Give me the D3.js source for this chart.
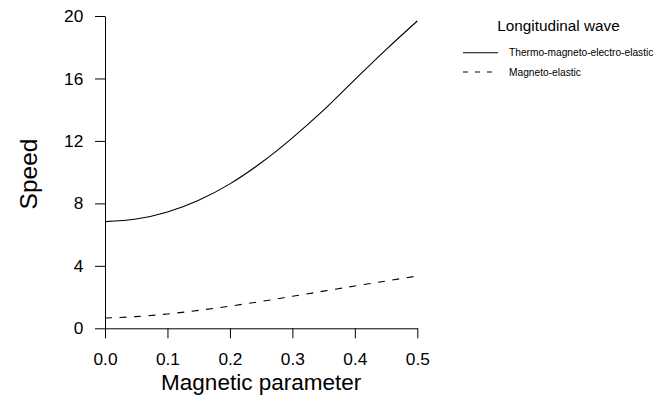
<!DOCTYPE html>
<html><head><meta charset="utf-8">
<script src="https://cdn.jsdelivr.net/npm/d3@7"></script>
<style>body{margin:0;background:#fff}svg{display:block}text{font-family:"Liberation Sans",Arial,sans-serif;fill:#000}</style>
</head><body>
<script>
const magneticParameter = [0, 0.05, 0.1, 0.15, 0.2, 0.25, 0.3, 0.35, 0.4, 0.45, 0.5];
const thermoMagnetoElectroElastic = [6.83, 7.0, 7.45, 8.2, 9.25, 10.6, 12.2, 13.97, 15.93, 17.85, 19.68];
const magnetoElastic = [0.66, 0.75, 0.92, 1.15, 1.42, 1.72, 2.05, 2.38, 2.71, 3.03, 3.35];
const xTicks = [0, 0.1, 0.2, 0.3, 0.4, 0.5];
const yTicks = [0, 4, 8, 12, 16, 20];
const seriesNames = ["Thermo-magneto-electro-elastic", "Magneto-elastic"];
const legendTitle = "Longitudinal wave";

const W = 671, H = 401;
const svg = d3.select("body").append("svg").attr("width", W).attr("height", H);
const x = d3.scaleLinear().domain([0, 0.5]).range([105, 417.3]);
const y = d3.scaleLinear().domain([0, 20]).range([328.3, 16]);

const xAxis = svg.append("g").attr("transform", `translate(0,${y(0)})`)
  .call(d3.axisBottom(x).tickValues(xTicks).tickFormat(d3.format(".1f")).tickSize(10).tickSizeOuter(0).tickPadding(14));
const yAxis = svg.append("g").attr("transform", `translate(${x(0)},0)`)
  .call(d3.axisLeft(y).tickValues(yTicks).tickFormat(d3.format("d")).tickSize(10).tickSizeOuter(0).tickPadding(11.7));
[xAxis, yAxis].forEach(a => {
  a.selectAll("path").attr("stroke", "#000").attr("stroke-width", 1);
  a.selectAll("line").attr("stroke", "#000");
  a.selectAll("text").style("font-size", "17.3px").attr("fill", "#000");
});

const line = d3.line().x((d, i) => x(magneticParameter[i])).y(d => y(d)).curve(d3.curveMonotoneX);
svg.append("path").datum(thermoMagnetoElectroElastic).attr("d", line)
  .attr("fill", "none").attr("stroke", "#000").attr("stroke-width", 1.1);
svg.append("path").datum(magnetoElastic).attr("d", line)
  .attr("fill", "none").attr("stroke", "#000").attr("stroke-width", 1.1).attr("stroke-dasharray", "7,7.5");

svg.append("text").attr("x", (x(0) + x(0.5)) / 2).attr("y", 389.5).attr("text-anchor", "middle")
  .style("font-size", "22.5px").text("Magnetic parameter");
svg.append("text").attr("transform", `translate(37.3,174) rotate(-90)`).attr("text-anchor", "middle")
  .style("font-size", "24.5px").text("Speed");

const lg = svg.append("g");
lg.append("text").attr("x", 558.5).attr("y", 31).attr("text-anchor", "middle").style("font-size", "15.3px").text(legendTitle);
seriesNames.forEach((n, i) => {
  const yy = 52.7 + i * 19.3;
  lg.append("line").attr("x1", 463).attr("x2", 498).attr("y1", yy).attr("y2", yy)
    .attr("stroke", "#000").attr("stroke-width", 1.1).attr("stroke-dasharray", i ? "5,7" : null);
  lg.append("text").attr("x", 509).attr("y", yy).attr("dy", "0.35em").style("font-size", "10.2px").text(n);
});
</script>
</body></html>
